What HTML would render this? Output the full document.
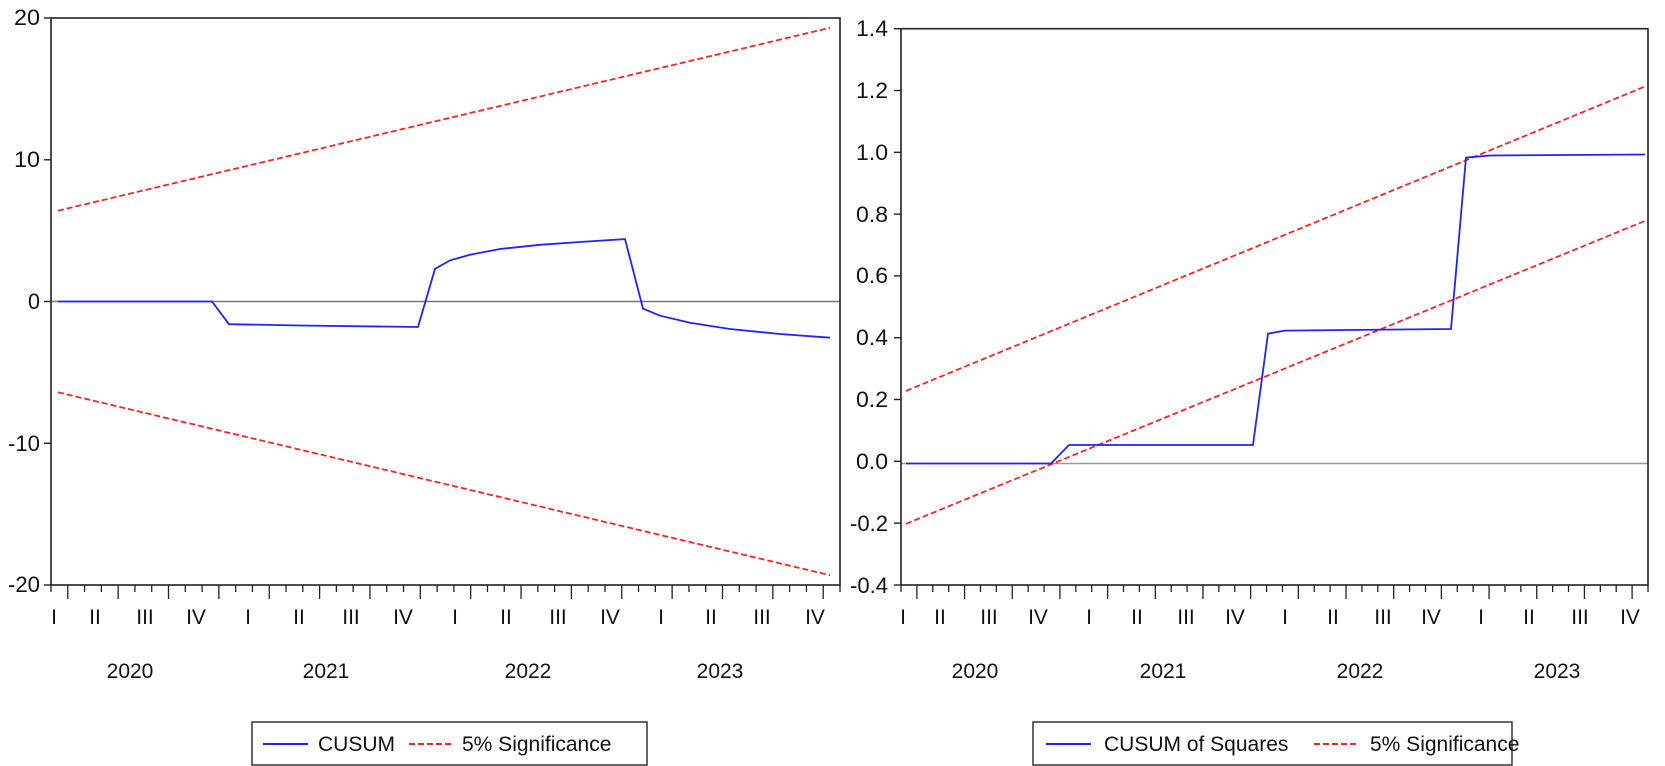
<!DOCTYPE html>
<html><head><meta charset="utf-8"><style>
html,body{margin:0;padding:0;background:#fff}
svg{display:block}
text{font-family:"Liberation Sans",sans-serif;fill:#111}
</style></head><body>
<svg id="s" width="1665" height="766" viewBox="0 0 1665 766" xmlns="http://www.w3.org/2000/svg">
<rect width="1665" height="766" fill="#fff"/>
<!-- LEFT PLOT -->
<line x1="51" y1="301.5" x2="840" y2="301.5" stroke="#777" stroke-width="1.5"/>
<polyline fill="none" stroke="#f22" stroke-width="1.8" stroke-dasharray="6,3" points="58,210.7 830,27.8"/>
<polyline fill="none" stroke="#f22" stroke-width="1.8" stroke-dasharray="6,3" points="58,392.3 830,575.2"/>
<polyline fill="none" stroke="#22f" stroke-width="1.8" points="58,301.5 212,301.5 229,324.2 300,325.5 418,327 435,268.9 450,260.4 470,254.7 500,249 540,244.8 580,242 625,239.1 643,308.6 660,315.7 690,322.8 730,329 780,334 830,337.7"/>
<rect x="51" y="18" width="789" height="567" fill="none" stroke="#222" stroke-width="1.6"/>
<g stroke="#222" stroke-width="1.4">
<line x1="44" y1="18" x2="51" y2="18"/><line x1="44" y1="159.8" x2="51" y2="159.8"/><line x1="44" y1="301.5" x2="51" y2="301.5"/><line x1="44" y1="443.3" x2="51" y2="443.3"/><line x1="44" y1="585" x2="51" y2="585"/>
</g>
<g font-size="22">
<text x="40" y="25" text-anchor="end" textLength="26" lengthAdjust="spacingAndGlyphs">20</text>
<text x="40" y="167" text-anchor="end" textLength="26" lengthAdjust="spacingAndGlyphs">10</text>
<text x="40" y="309" text-anchor="end" textLength="12" lengthAdjust="spacingAndGlyphs">0</text>
<text x="40" y="451" text-anchor="end" textLength="32" lengthAdjust="spacingAndGlyphs">-10</text>
<text x="40" y="592" text-anchor="end" textLength="32" lengthAdjust="spacingAndGlyphs">-20</text>
</g>
<g id="lt" stroke="#222" stroke-width="1.3"></g>
<g font-size="21" text-anchor="middle">
<text x="54" y="624">I</text><text x="95" y="624">II</text><text x="145" y="624">III</text><text x="196" y="624">IV</text>
<text x="248" y="624">I</text><text x="299" y="624">II</text><text x="351" y="624">III</text><text x="403" y="624">IV</text>
<text x="455" y="624">I</text><text x="506" y="624">II</text><text x="558" y="624">III</text><text x="610" y="624">IV</text>
<text x="661" y="624">I</text><text x="711" y="624">II</text><text x="762" y="624">III</text><text x="815" y="624">IV</text>
<text x="130" y="678">2020</text><text x="326" y="678">2021</text><text x="528" y="678">2022</text><text x="720" y="678">2023</text>
</g>
<rect x="252" y="722" width="395" height="43" fill="none" stroke="#333" stroke-width="1.5"/>
<line x1="263" y1="744" x2="308" y2="744" stroke="#22f" stroke-width="2"/>
<text x="318" y="751" font-size="21">CUSUM</text>
<line x1="409" y1="744" x2="452" y2="744" stroke="#f22" stroke-width="2" stroke-dasharray="6,3"/>
<text x="462" y="751" font-size="21">5% Significance</text>

<!-- RIGHT PLOT -->
<line x1="901" y1="463.5" x2="1648" y2="463.5" stroke="#999" stroke-width="1.5"/>
<polyline fill="none" stroke="#f22" stroke-width="1.8" stroke-dasharray="6,3" points="906,390.9 1645,86.5"/>
<polyline fill="none" stroke="#f22" stroke-width="1.8" stroke-dasharray="6,3" points="906,523.8 1645,220.9"/>
<polyline fill="none" stroke="#22f" stroke-width="1.8" points="906,463.5 1051,463.5 1069,445 1253,445 1268,333.7 1285,330.6 1451,329 1466,157.6 1490,155.5 1645,154.5"/>
<rect x="901" y="28.7" width="747" height="556.3" fill="none" stroke="#222" stroke-width="1.6"/>
<g stroke="#222" stroke-width="1.4">
<line x1="894" y1="28.7" x2="901" y2="28.7"/><line x1="894" y1="90.5" x2="901" y2="90.5"/><line x1="894" y1="152.3" x2="901" y2="152.3"/><line x1="894" y1="214.1" x2="901" y2="214.1"/><line x1="894" y1="275.9" x2="901" y2="275.9"/><line x1="894" y1="337.7" x2="901" y2="337.7"/><line x1="894" y1="399.5" x2="901" y2="399.5"/><line x1="894" y1="461.3" x2="901" y2="461.3"/><line x1="894" y1="523.1" x2="901" y2="523.1"/><line x1="894" y1="585" x2="901" y2="585"/>
</g>
<g font-size="22" text-anchor="end">
<text x="888" y="36" textLength="32" lengthAdjust="spacingAndGlyphs">1.4</text>
<text x="888" y="98" textLength="32" lengthAdjust="spacingAndGlyphs">1.2</text>
<text x="888" y="160" textLength="32" lengthAdjust="spacingAndGlyphs">1.0</text>
<text x="888" y="222" textLength="32" lengthAdjust="spacingAndGlyphs">0.8</text>
<text x="888" y="283" textLength="32" lengthAdjust="spacingAndGlyphs">0.6</text>
<text x="888" y="345" textLength="32" lengthAdjust="spacingAndGlyphs">0.4</text>
<text x="888" y="407" textLength="32" lengthAdjust="spacingAndGlyphs">0.2</text>
<text x="888" y="469" textLength="32" lengthAdjust="spacingAndGlyphs">0.0</text>
<text x="888" y="531" textLength="38" lengthAdjust="spacingAndGlyphs">-0.2</text>
<text x="888" y="593" textLength="38" lengthAdjust="spacingAndGlyphs">-0.4</text>
</g>
<g id="rt" stroke="#222" stroke-width="1.3"></g>
<g font-size="21" text-anchor="middle">
<text x="903" y="624">I</text><text x="940" y="624">II</text><text x="989" y="624">III</text><text x="1038" y="624">IV</text>
<text x="1089" y="624">I</text><text x="1137" y="624">II</text><text x="1186" y="624">III</text><text x="1235" y="624">IV</text>
<text x="1285" y="624">I</text><text x="1333" y="624">II</text><text x="1383" y="624">III</text><text x="1431" y="624">IV</text>
<text x="1481" y="624">I</text><text x="1529" y="624">II</text><text x="1580" y="624">III</text><text x="1630" y="624">IV</text>
<text x="975" y="678">2020</text><text x="1163" y="678">2021</text><text x="1360" y="678">2022</text><text x="1557" y="678">2023</text>
</g>
<rect x="1033" y="722" width="479" height="43" fill="none" stroke="#333" stroke-width="1.5"/>
<line x1="1046" y1="744" x2="1091" y2="744" stroke="#22f" stroke-width="2"/>
<text x="1104" y="751" font-size="21">CUSUM of Squares</text>
<line x1="1314" y1="744" x2="1356" y2="744" stroke="#f22" stroke-width="2" stroke-dasharray="6,3"/>
<text x="1370" y="751" font-size="21">5% Significance</text>
</svg>
<script>
function ticks(id,x0,x1,n){var g=document.getElementById(id),s=(x1-x0)/n,h='';
for(var i=0;i<=n;i++){var x=x0+i*s,l=(i%3==1)?14:7;h+='<line x1="'+x+'" y1="585" x2="'+x+'" y2="'+(585+l)+'"/>';}
g.innerHTML=h;}
ticks('lt',51,840,47);ticks('rt',901,1648,47);
</script>
</body></html>
